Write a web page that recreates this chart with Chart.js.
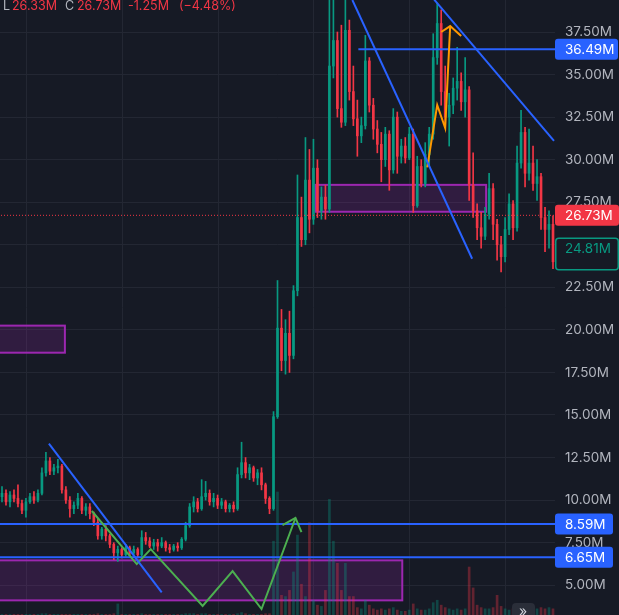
<!DOCTYPE html>
<html>
<head>
<meta charset="utf-8">
<script src="https://cdn.jsdelivr.net/npm/chart.js@4.4.1/dist/chart.umd.min.js"></script>
<style>
  html, body { margin: 0; padding: 0; background: #161a25; }
  #wrap { width: 619px; height: 615px; position: relative; }
</style>
</head>
<body>
<div id="wrap"><canvas id="chart"></canvas></div>
<script>
// candle data, in millions (one candle per slot, left to right)
const opens = [
  10.2,10.4,9.9,10.3,10.1,9.8,9.4,9.9,10.2,10.0,
  10.4,11.6,12.3,11.7,11.9,12.0,10.6,10.0,9.5,9.7,
  10.1,9.4,9.6,9.2,8.7,7.9,8.3,7.9,7.4,6.9,
  7.1,6.8,7.2,6.9,7.1,6.8,7.8,7.6,7.3,7.5,
  7.3,7.5,7.2,7.1,7.3,7.2,7.7,8.5,9.6,9.9,
  9.5,10.2,10.4,9.9,10.1,9.7,9.9,9.5,9.7,9.5,
  11.5,12.2,11.6,11.9,11.3,11.6,10.9,10.1,9.5,14.9,
  20.1,18.2,19.8,18.5,22.3,26.6,25.3,28.8,26.5,29.5,
  27.0,27.8,27.1,35.5,37.0,33.0,32.2,37.6,34.0,32.4,
  31.4,32.0,35.8,33.2,31.8,30.9,30.0,31.5,29.4,32.5,
  30.2,30.8,30.1,31.5,27.3,29.6,28.6,30.3,31.5,36.0,
  38.0,34.0,32.5,33.2,34.2,34.6,33.4,34.1,28.5,27.0,
  26.0,25.5,26.8,28.3,26.2,25.0,24.3,25.9,27.4,26.0,
  29.8,31.6,29.2,29.8,28.6,29.0,26.6,25.9,26.2
];
const highs = [
  10.8,10.6,10.5,10.6,10.9,10.0,10.1,10.4,10.5,10.6,
  11.9,12.8,12.5,12.1,12.4,12.1,10.8,10.2,9.9,10.4,
  10.2,9.8,9.8,9.3,8.9,8.4,8.5,8.0,7.5,7.3,
  7.2,7.4,7.3,7.3,7.2,8.2,8.1,7.8,7.7,7.7,
  7.8,7.6,7.4,7.4,7.5,7.8,8.7,9.8,10.2,10.1,
  11.2,11.1,10.6,10.4,10.3,10.1,10.0,9.8,9.9,11.9,
  13.4,12.5,12.1,12.0,11.8,11.9,11.0,10.2,15.2,22.9,
  21.2,20.6,21.1,22.6,29.1,27.8,31.3,30.6,31.2,30.0,
  28.4,28.5,39.4,39.6,37.5,37.9,39.6,38.2,35.5,33.5,
  32.5,37.3,36.0,33.6,32.3,31.6,31.9,31.7,33.0,32.8,
  31.2,31.3,31.9,31.8,30.2,30.0,31.0,31.9,37.4,39.2,
  38.8,35.5,33.9,34.8,36.6,35.1,36.0,34.3,30.4,27.4,
  26.9,27.2,29.2,28.6,26.5,25.5,26.6,28.0,27.6,30.8,
  32.9,31.9,31.8,30.8,30.0,29.2,27.2,27.0,26.7
];
const lows = [
  9.9,9.7,9.6,9.9,9.6,9.2,9.0,9.8,9.8,9.9,
  10.3,11.4,11.5,11.5,11.6,10.4,9.8,9.0,9.2,9.5,
  9.2,9.1,8.9,8.5,7.7,7.7,7.6,7.2,6.5,6.4,
  6.6,6.7,6.7,6.8,6.6,6.7,7.4,7.2,7.1,7.0,
  7.2,7.0,6.9,7.0,7.0,7.1,7.6,8.4,9.3,9.3,
  9.4,10.0,9.7,9.6,9.5,9.5,9.3,9.3,9.3,9.4,
  11.3,11.3,11.2,11.1,10.9,10.6,9.8,9.2,9.4,14.8,
  17.6,17.4,17.5,18.3,22.0,24.9,25.0,25.7,26.2,26.6,
  26.5,26.5,26.9,34.8,32.5,31.9,32.0,33.5,32.0,30.2,
  31.0,31.8,32.8,31.2,30.4,28.7,29.6,28.2,29.2,29.2,
  29.8,29.8,30.0,26.9,27.2,28.4,28.4,29.6,31.2,35.6,
  33.2,32.0,30.8,32.7,33.5,32.9,32.5,27.6,26.6,25.3,
  24.8,25.3,26.5,25.3,24.1,23.4,24.0,25.6,25.3,25.8,
  29.5,28.4,28.8,28.2,27.6,25.9,24.6,24.8,23.6
];
const closes = [
  10.4,9.9,10.3,10.1,9.8,9.4,9.9,10.2,10.0,10.4,
  11.6,12.3,11.7,11.9,12.0,10.6,10.0,9.5,9.7,10.1,
  9.4,9.6,9.2,8.7,7.9,8.3,7.9,7.4,6.9,7.1,
  6.8,7.2,6.9,7.1,6.8,7.8,7.6,7.3,7.5,7.3,
  7.5,7.2,7.1,7.3,7.2,7.7,8.5,9.6,9.9,9.5,
  10.2,10.4,9.9,10.1,9.7,9.9,9.5,9.7,9.5,11.5,
  12.2,11.6,11.9,11.3,11.6,10.9,10.1,9.5,14.9,20.1,
  18.2,19.8,18.5,22.3,26.6,25.3,28.8,26.5,29.5,27.0,
  27.8,27.1,35.5,37.0,33.0,32.2,37.6,34.0,32.4,31.4,
  32.0,35.8,33.2,31.8,30.9,30.0,31.5,29.4,32.5,30.2,
  30.8,30.1,31.5,27.3,29.6,28.6,30.3,31.5,36.0,38.0,
  34.0,32.5,33.2,34.2,34.6,33.4,34.1,28.5,27.0,26.0,
  25.5,26.8,28.3,26.2,25.0,24.3,25.9,27.4,26.0,29.8,
  31.6,29.2,29.8,28.6,29.0,26.6,25.9,26.2,24.0
];
const volumes = [
  0.05,0.05,0.05,0.05,0.05,0.05,0.05,0.05,0.05,0.05,
  0.1,0.1,0.05,0.05,0.05,0.05,0.05,0.05,0.05,0.05,
  0.05,0.05,0.05,0.05,0.1,0.05,0.05,0.05,0.1,0.9,
  0.05,0.05,0.05,0.05,0.05,0.1,0.05,0.05,0.05,0.05,
  0.05,0.05,0.05,0.05,0.05,0.05,0.1,0.1,0.1,0.05,
  0.1,0.1,0.05,0.05,0.05,0.05,0.05,0.05,0.05,0.1,
  0.2,0.1,0.05,0.05,0.05,0.05,0.1,0.1,6.0,10.0,
  1.6,1.5,2.0,3.5,6.5,2.5,1.5,7.5,1.2,0.8,
  0.7,2.0,9.4,6.0,4.2,2.0,4.2,1.5,1.5,0.6,
  0.5,1.2,0.8,0.5,0.4,0.5,0.4,0.5,0.6,0.4,
  0.3,0.3,0.4,0.9,0.5,0.4,0.4,0.5,1.0,1.2,
  0.8,0.6,0.5,0.4,0.5,0.4,0.5,3.9,2.2,0.8,
  0.6,0.5,0.5,0.6,1.6,0.7,0.5,0.4,0.5,0.8,
  0.6,0.5,0.4,0.4,0.5,0.6,0.5,0.6,0.5
];

const priceTicks = [5, 7.5, 10, 12.5, 15, 17.5, 20, 22.5, 25, 27.5, 30, 32.5, 35, 37.5];
const timeGrid = [6.25, 30.2, 54.15, 78.1, 102.05, 126];

// drawings, in (candle slot, price) units
const levels = [36.49, 8.59, 6.65];
const levelStarts = [89.25, -1, -1];
const lastPrice = 26.73;
const markPrice = 24.81;
const trendLines = [
  [[11.75, 13.32], [40, 4.58]],
  [[87.75, 39.38], [117.75, 24.18]],
  [[108.25, 39.4], [138.25, 31.1]]
];
const greenPath = [[22.5, 9.36], [33.75, 6.24], [37.25, 7.12], [50.25, 3.78], [57.75, 5.83], [65, 3.6], [73.5, 8.95]];
const greenHead = [[70.25, 8.53], [73.5, 8.95], [75, 8.12]];
const orangePath = [[106.5, 29.55], [109, 33.21], [111, 31.86], [112.25, 37.85]];
const orangeHead = [[110, 37.5], [112.25, 37.85], [115, 37.26]];
const zones = [[-1, 15.75, 20.25, 18.66], [78.5, 121.25, 28.52, 26.94], [-1, 100.25, 6.46, 4.11]];

const up = '#089981';
const down = '#f23645';
const blue = '#2962ff';
const gridColor = '#232733';

const candleColors = closes.map((c, i) => c >= opens[i] ? up : down);
const volumeColors = closes.map((c, i) => c >= opens[i] ? 'rgba(8,153,129,0.35)' : 'rgba(242,54,69,0.35)');

const toPoints = arr => arr.map(p => ({ x: p[0], y: p[1] }));
const lineSet = (pts, color, extra) => Object.assign({
  type: 'line',
  data: toPoints(pts),
  borderColor: color,
  borderWidth: 2,
  pointRadius: 0,
  tension: 0,
  order: 1
}, extra || {});

const datasets = [
  {
    type: 'bar', yAxisID: 'yv',
    data: volumes.map((v, i) => ({ x: i, y: v })),
    backgroundColor: volumeColors,
    barThickness: 2, grouped: false, order: 6
  },
  {
    type: 'bar',
    data: lows.map((l, i) => ({ x: i, y: [l, highs[i]] })),
    backgroundColor: candleColors,
    barThickness: 1, grouped: false, order: 5
  },
  {
    type: 'bar',
    data: opens.map((o, i) => ({ x: i, y: [Math.min(o, closes[i]), Math.max(o, closes[i])] })),
    backgroundColor: candleColors,
    barThickness: 2, minBarLength: 1, grouped: false, order: 4
  },
  lineSet([[-1, lastPrice], [139, lastPrice]], down, { borderWidth: 1, borderDash: [1, 2], order: 3 })
];
levels.forEach((lv, k) => datasets.push(lineSet([[levelStarts[k], lv], [139, lv]], blue, { order: 2 })));
trendLines.forEach(t => datasets.push(lineSet(t, blue)));
datasets.push(lineSet(greenPath, '#4caf50'));
datasets.push(lineSet(greenHead, '#4caf50'));
datasets.push(lineSet(orangePath, '#ff9800'));
datasets.push(lineSet(orangeHead, '#ff9800'));

const roundRect = (ctx, x, y, w, h, r) => {
  ctx.beginPath();
  ctx.moveTo(x + r, y);
  ctx.lineTo(x + w - r, y);
  ctx.quadraticCurveTo(x + w, y, x + w, y + r);
  ctx.lineTo(x + w, y + h - r);
  ctx.quadraticCurveTo(x + w, y + h, x + w - r, y + h);
  ctx.lineTo(x + r, y + h);
  ctx.quadraticCurveTo(x, y + h, x, y + h - r);
  ctx.lineTo(x, y + r);
  ctx.quadraticCurveTo(x, y, x + r, y);
  ctx.closePath();
};

const overlay = {
  id: 'overlay',
  beforeDraw(chart) {
    const ctx = chart.ctx;
    ctx.save();
    ctx.fillStyle = '#161a25';
    ctx.fillRect(0, 0, chart.width, chart.height);
    ctx.restore();
  },
  beforeDatasetsDraw(chart) {
    const { ctx, chartArea, scales } = chart;
    ctx.save();
    ctx.beginPath();
    ctx.rect(chartArea.left, chartArea.top, chartArea.right - chartArea.left, chartArea.bottom - chartArea.top);
    ctx.clip();
    zones.forEach(z => {
      const x0 = scales.x.getPixelForValue(z[0]);
      const x1 = scales.x.getPixelForValue(z[1]);
      const y0 = scales.y.getPixelForValue(z[2]);
      const y1 = scales.y.getPixelForValue(z[3]);
      ctx.fillStyle = 'rgba(156,39,176,0.2)';
      ctx.fillRect(x0, y0, x1 - x0, y1 - y0);
      ctx.strokeStyle = '#9c27b0';
      ctx.lineWidth = 2;
      ctx.strokeRect(x0, y0, x1 - x0, y1 - y0);
    });
    ctx.restore();
  },
  afterDraw(chart) {
    const { ctx, scales } = chart;
    const left = chart.chartArea.right;
    ctx.save();
    ctx.font = '13.5px Inter';
    ctx.textBaseline = 'middle';
    ctx.textAlign = 'left';

    const tag = (value, text, fill, border, color, w, below) => {
      const y = scales.y.getPixelForValue(value);
      const top = y - 10.5;
      const h = 21 + (below || 0);
      roundRect(ctx, left, top, w, h, 3);
      ctx.fillStyle = fill;
      ctx.fill();
      if (border) {
        ctx.strokeStyle = border;
        ctx.lineWidth = 1.5;
        roundRect(ctx, left + 0.75, top + 0.75, w - 1.5, h - 1.5, 3);
        ctx.stroke();
      }
      ctx.fillStyle = color;
      ctx.fillText(text, left + 10, y + 0.5);
    };

    tag(levels[0], levels[0].toFixed(2) + 'M', blue, null, '#ffffff', 63);
    tag(levels[1], levels[1].toFixed(2) + 'M', blue, null, '#ffffff', 58);
    tag(levels[2], levels[2].toFixed(2) + 'M', blue, null, '#ffffff', 58);
    tag(markPrice, markPrice.toFixed(2) + 'M', '#161a25', up, up, 64, 12);
    tag(lastPrice, lastPrice.toFixed(2) + 'M', down, null, '#ffffff', 64);

    // header legend
    ctx.font = '12.5px Inter';
    const head = [['L', 3, '#b2b5be'], ['26.33M', 12, down], ['C', 65, '#b2b5be'], ['26.73M', 77, down],
                  ['-1.25M', 128, down], ['(\u22124.48%)', 179, down]];
    head.forEach(h => {
      ctx.fillStyle = h[2];
      ctx.fillText(h[0], h[1], 6);
    });

    // scroll button
    roundRect(ctx, 512, 603, 23, 20, 4);
    ctx.fillStyle = '#2a2e39';
    ctx.fill();
    ctx.fillStyle = '#d1d4dc';
    ctx.font = '14px Inter';
    ctx.fillText('\u00bb', 519, 612);
    ctx.restore();
  }
};

new Chart(document.getElementById('chart'), {
  type: 'bar',
  data: { datasets: datasets },
  options: {
    responsive: true,
    maintainAspectRatio: false,
    animation: false,
    devicePixelRatio: 1,
    layout: { padding: 0 },
    plugins: { legend: { display: false }, tooltip: { enabled: false } },
    scales: {
      x: {
        type: 'linear', min: -0.5, max: 138.5, offset: false,
        grid: { color: gridColor, drawTicks: false, offset: false },
        border: { display: false },
        ticks: { display: false },
        afterBuildTicks: s => { s.ticks = timeGrid.map(v => ({ value: v })); },
        afterFit: s => { s.height = 0; }
      },
      y: {
        position: 'right', min: 3.25, max: 39.38,
        grid: { color: gridColor, drawTicks: false },
        border: { display: false },
        ticks: {
          color: '#b2b5be', padding: 10,
          font: { family: 'Inter', size: 13.5 },
          callback: v => v.toFixed(2) + 'M'
        },
        afterBuildTicks: s => { s.ticks = priceTicks.map(v => ({ value: v })); },
        afterFit: s => { s.width = 64; s.paddingTop = 0; s.paddingBottom = 0; }
      },
      yv: { display: false, min: 0, max: 50 }
    }
  },
  plugins: [overlay]
});
</script>
</body>
</html>
